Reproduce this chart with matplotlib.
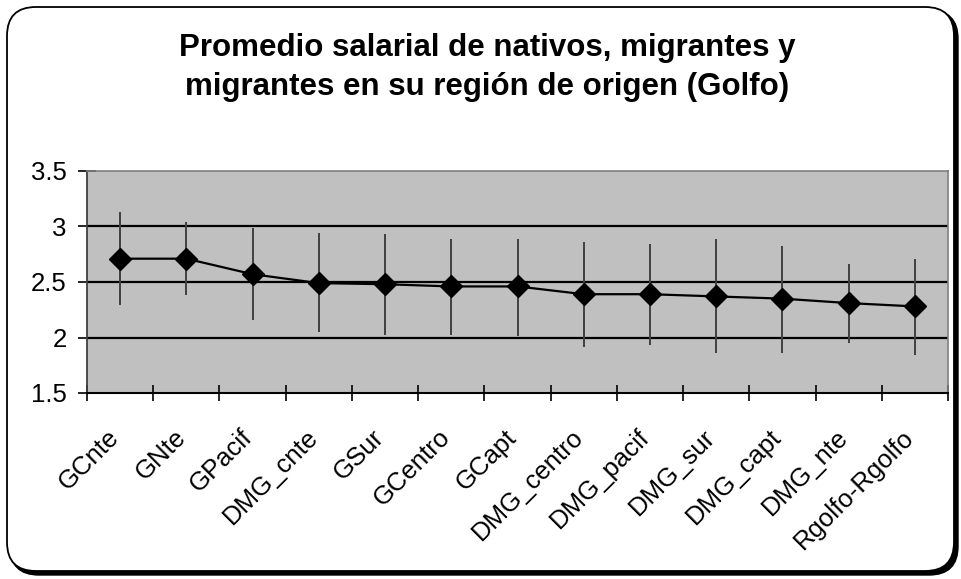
import matplotlib
matplotlib.use("Agg")
import matplotlib.pyplot as plt
from matplotlib.patches import FancyBboxPatch
from matplotlib.transforms import ScaledTranslation
import numpy as np

plt.rcParams['font.family'] = ['Liberation Sans', 'DejaVu Sans']

categories = ["GCnte", "GNte", "GPacif", "DMG_cnte", "GSur", "GCentro", "GCapt",
              "DMG_centro", "DMG_pacif", "DMG_sur", "DMG_capt", "DMG_nte", "Rgolfo-Rgolfo"]
means = [2.71, 2.71, 2.57, 2.49, 2.48, 2.46, 2.46, 2.39, 2.39, 2.37, 2.35, 2.31, 2.28]
upper = [3.13, 3.04, 2.99, 2.94, 2.93, 2.89, 2.89, 2.86, 2.84, 2.89, 2.82, 2.66, 2.71]
lower = [2.29, 2.38, 2.16, 2.05, 2.02, 2.02, 2.01, 1.91, 1.93, 1.86, 1.86, 1.95, 1.84]
yticks = [1.5, 2, 2.5, 3, 3.5]
ytick_labels = ["1.5", "2", "2.5", "3", "3.5"]
title = "Promedio salarial de nativos, migrantes y\nmigrantes en su región de origen (Golfo)"

W, H = 962, 579
fig = plt.figure(figsize=(W / 100, H / 100), dpi=100)

# rounded border with shadow
shadow = FancyBboxPatch((10 / W, 4 / H), (948 / W), (565 / H),
                        boxstyle="round,pad=0,rounding_size=0.03",
                        transform=fig.transFigure, facecolor="black",
                        edgecolor="black", linewidth=1, zorder=-3,
                        mutation_aspect=W / H)
fig.patches.append(shadow)
border = FancyBboxPatch((7 / W, 8 / H), (947 / W), (564 / H),
                        boxstyle="round,pad=0,rounding_size=0.03",
                        transform=fig.transFigure, facecolor="white",
                        edgecolor="black", linewidth=1.3, zorder=-2,
                        mutation_aspect=W / H)
fig.patches.append(border)

left, right = 87 / W, 948 / W
top, bottom = 1 - 171 / H, 1 - 393 / H
ax = fig.add_axes([left, bottom, right - left, top - bottom])
ax.set_zorder(1)
ax.set_facecolor("#C0C0C0")

x = np.arange(len(categories))
means_a = np.array(means)
yerr = [means_a - np.array(lower), np.array(upper) - means_a]

for yv in [2, 2.5, 3]:
    ax.axhline(yv, color="black", linewidth=1.6, zorder=1)

ax.errorbar(x, means, yerr=yerr, fmt="none", ecolor="#404040", elinewidth=1.4,
            capsize=0, zorder=2)
ax.plot(x, means, color="black", linewidth=1.6, zorder=3)
ax.plot(x, means, linestyle="none", marker="D", markersize=11.5,
        markerfacecolor="black", markeredgecolor="black", zorder=4)

ax.set_xlim(-0.5, len(categories) - 0.5)
ax.set_ylim(1.5, 3.5)
ax.set_yticks(yticks)
ax.set_yticklabels(ytick_labels, fontsize=18.5)
ax.set_xticks(np.arange(-0.5, len(categories), 1.0))
ax.set_xticklabels([])
ax.set_xticks(x, minor=True)
ax.set_xticklabels(categories, minor=True, rotation=45, ha="right",
                   va="top", rotation_mode="anchor", fontsize=18.5)
ax.tick_params(axis="x", which="major", direction="inout", length=11, width=1.2,
               color="black")
ax.tick_params(axis="x", which="minor", length=0, pad=23)
ax.tick_params(axis="y", which="major", direction="inout", length=13, width=1.2,
               color="black", pad=8)

offset = ScaledTranslation(-13 / 100, 0, fig.dpi_scale_trans)
for lab in ax.get_xticklabels(minor=True):
    lab.set_transform(lab.get_transform() + offset)

ax.spines["bottom"].set_color("black")
ax.spines["bottom"].set_linewidth(1.5)
ax.spines["left"].set_color("#404040")
ax.spines["left"].set_linewidth(1.3)
ax.spines["top"].set_color("#808080")
ax.spines["right"].set_color("#808080")
ax.spines["top"].set_linewidth(1.2)
ax.spines["right"].set_linewidth(1.2)

fig.text(487 / W, 1 - 33 / H, title, ha="center", va="top", fontsize=22.5,
         fontweight="bold", linespacing=1.37)

fig.savefig("out.png", dpi=100)
